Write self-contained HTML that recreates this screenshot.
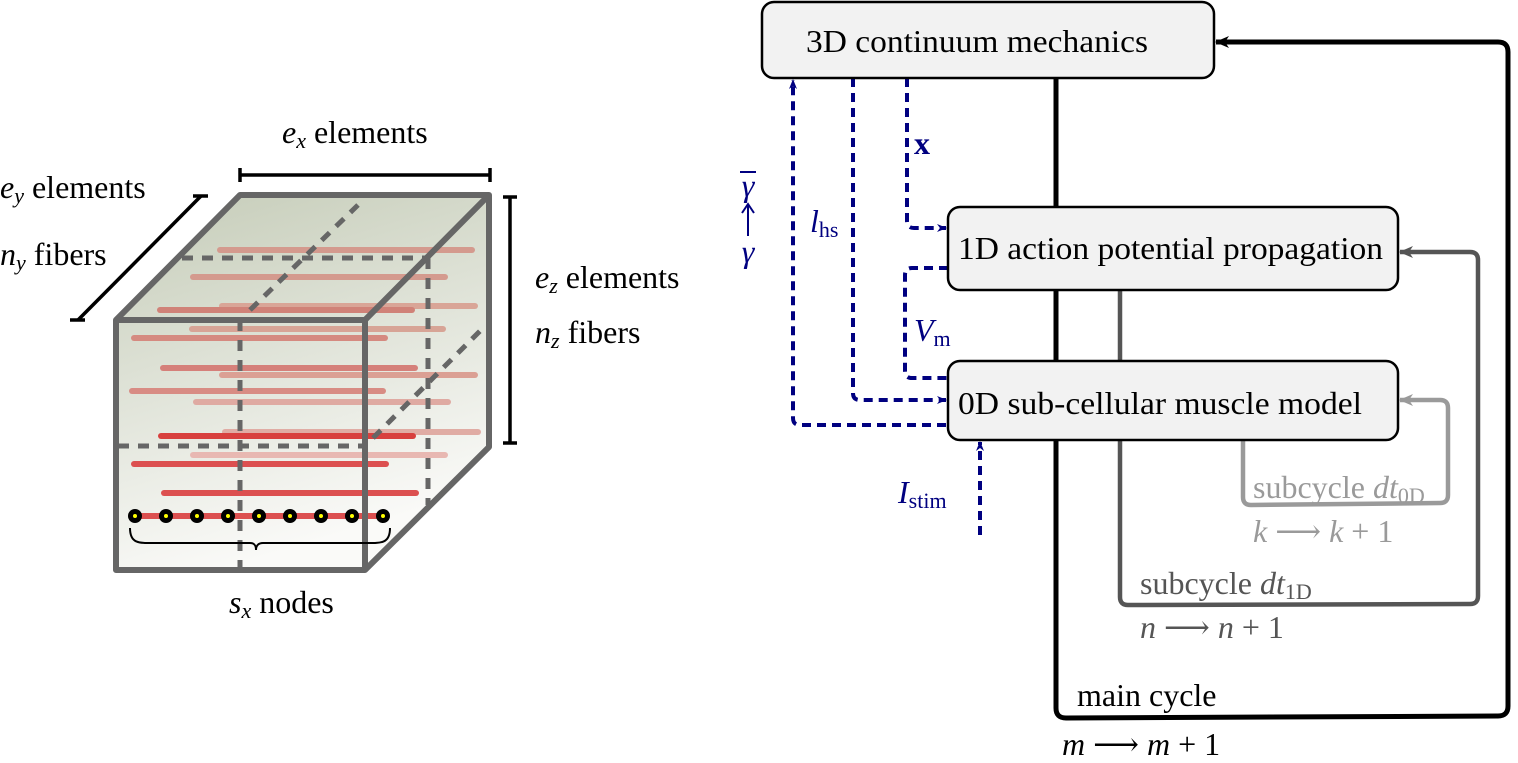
<!DOCTYPE html>
<html><head><meta charset="utf-8"><style>
html,body{margin:0;padding:0;background:#fff}
svg{display:block}
svg text{font-family:"Liberation Serif","DejaVu Serif","Times New Roman",serif;font-size:32px}
.it{font-style:italic}
</style></head><body>
<svg width="1518" height="763" viewBox="0 0 1518 763">
<defs>
<linearGradient id="g" x1="0" y1="0" x2="0.3" y2="1">
<stop offset="0" stop-color="#c5ccb8"/><stop offset="1" stop-color="#fafaf8"/>
</linearGradient>
<marker id="ab" markerWidth="10" markerHeight="10" refX="9" refY="5" orient="auto" markerUnits="userSpaceOnUse"><path d="M0,1 L10,5 L0,9 L3,5z" fill="#000080"/></marker>
<marker id="ak" markerWidth="14" markerHeight="12" refX="13" refY="6" orient="auto" markerUnits="userSpaceOnUse"><path d="M0,0 L14,6 L0,12 L4,6z" fill="#000"/></marker>
<marker id="ad" markerWidth="14" markerHeight="12" refX="13" refY="6" orient="auto" markerUnits="userSpaceOnUse"><path d="M0,0 L14,6 L0,12 L4,6z" fill="#555"/></marker>
<marker id="al" markerWidth="14" markerHeight="12" refX="13" refY="6" orient="auto" markerUnits="userSpaceOnUse"><path d="M0,0 L14,6 L0,12 L4,6z" fill="#9a9a9a"/></marker>
</defs>

<polygon points="116,320 240,195 489,195 489,447 365,570 116,570" fill="url(#g)"/>
<g stroke-linecap="round" stroke-width="6">
<line x1="220" y1="250" x2="472" y2="250" stroke="#d49a8e"/>
<line x1="193" y1="277" x2="445" y2="277" stroke="#d49a8e"/>
<line x1="222" y1="306" x2="475" y2="306" stroke="#d9a597"/>
<line x1="160" y1="310" x2="412" y2="310" stroke="#d08278"/>
<line x1="192" y1="329" x2="443" y2="329" stroke="#d7a496"/>
<line x1="134" y1="338" x2="385" y2="338" stroke="#d58a80"/>
<line x1="163" y1="368" x2="415" y2="368" stroke="#d5807a"/>
<line x1="222" y1="375" x2="475" y2="375" stroke="#dba094"/>
<line x1="132" y1="391" x2="383" y2="391" stroke="#d88c84"/>
<line x1="196" y1="402" x2="448" y2="402" stroke="#dfaaa2"/>
<line x1="225" y1="432" x2="478" y2="432" stroke="#e0aca4"/>
<line x1="161" y1="436" x2="413" y2="436" stroke="#d8403e"/>
<line x1="193" y1="455" x2="445" y2="455" stroke="#e8b8b2"/>
<line x1="134" y1="464" x2="386" y2="464" stroke="#dc5050"/>
<line x1="164" y1="493" x2="416" y2="493" stroke="#dc5050"/>
<line x1="135" y1="516" x2="384" y2="516" stroke="#dc5050"/>
</g>
<g stroke="#666" stroke-width="5" stroke-dasharray="11,9" fill="none">
<line x1="240" y1="320" x2="240" y2="570"/>
<line x1="250" y1="310" x2="358" y2="205"/>
<line x1="182" y1="258" x2="428" y2="258"/>
<line x1="428" y1="258" x2="428" y2="505"/>
<line x1="118" y1="446" x2="365" y2="446"/>
<line x1="373" y1="438" x2="481" y2="330"/>
</g>
<g stroke="#666" stroke-width="6" fill="none" stroke-linejoin="round">
<polygon points="116,320 240,195 489,195 489,447 365,570 116,570"/>
<polyline points="116,320 365,320 489,195"/>
<line x1="365" y1="320" x2="365" y2="570"/>
</g>
<g fill="#000">
<circle cx="135" cy="516" r="7"/><circle cx="166" cy="516" r="7"/><circle cx="197" cy="516" r="7"/><circle cx="228" cy="516" r="7"/><circle cx="259" cy="516" r="7"/><circle cx="290" cy="516" r="7"/><circle cx="321" cy="516" r="7"/><circle cx="352" cy="516" r="7"/><circle cx="383" cy="516" r="7"/>
</g>
<g fill="#ff0">
<circle cx="135" cy="516" r="2"/><circle cx="166" cy="516" r="2"/><circle cx="197" cy="516" r="2"/><circle cx="228" cy="516" r="2"/><circle cx="259" cy="516" r="2"/><circle cx="290" cy="516" r="2"/><circle cx="321" cy="516" r="2"/><circle cx="352" cy="516" r="2"/><circle cx="383" cy="516" r="2"/>
</g>
<path d="M130,528 C130,545 140,543 160,543 L250,543 C255,543 256,546 256,550 C256,546 258,543 263,543 L360,543 C380,543 390,545 390,528" fill="none" stroke="#000" stroke-width="2"/>

<g stroke="#000" stroke-width="3.5" fill="none">
<line x1="240" y1="175" x2="490" y2="175"/><line x1="240" y1="168" x2="240" y2="182"/><line x1="490" y1="168" x2="490" y2="182"/>
<line x1="510" y1="197" x2="510" y2="443"/><line x1="503" y1="197" x2="517" y2="197"/><line x1="503" y1="443" x2="517" y2="443"/>
<line x1="201" y1="196" x2="78" y2="320"/><line x1="193" y1="196" x2="208" y2="196"/><line x1="70" y1="320" x2="85" y2="320"/>
</g>
<text x="282" y="143"><tspan class="it">e</tspan><tspan class="it" font-size="22" dy="5">x</tspan><tspan dy="-5"> elements</tspan></text>
<text x="0" y="198"><tspan class="it">e</tspan><tspan class="it" font-size="22" dy="5">y</tspan><tspan dy="-5"> elements</tspan></text>
<text x="0" y="265"><tspan class="it">n</tspan><tspan class="it" font-size="22" dy="5">y</tspan><tspan dy="-5"> fibers</tspan></text>
<text x="535" y="288"><tspan class="it">e</tspan><tspan class="it" font-size="22" dy="5">z</tspan><tspan dy="-5"> elements</tspan></text>
<text x="535" y="343"><tspan class="it">n</tspan><tspan class="it" font-size="22" dy="5">z</tspan><tspan dy="-5"> fibers</tspan></text>
<text x="229" y="613"><tspan class="it">s</tspan><tspan class="it" font-size="22" dy="5">x</tspan><tspan dy="-5"> nodes</tspan></text>

<path d="M1056,78 L1056,708 Q1056,718 1066,718 L1498,716 Q1508,716 1508,706 L1508,52 Q1508,42 1498,42 L1216,42" fill="none" stroke="#000" stroke-width="5" marker-end="url(#ak)"/>
<path d="M1120,290 L1120,597 Q1120,605 1128,605 L1470,604 Q1478,604 1478,596 L1478,260 Q1478,252 1470,252 L1400,252" fill="none" stroke="#555" stroke-width="4.5" marker-end="url(#ad)"/>
<path d="M1243,440 L1243,497 Q1243,505 1251,505 L1440,503 Q1448,503 1448,495 L1448,408 Q1448,400 1440,400 L1400,400" fill="none" stroke="#9a9a9a" stroke-width="4.5" marker-end="url(#al)"/>

<g stroke="#000080" stroke-width="4" stroke-dasharray="9,6" fill="none" stroke-linejoin="round">
<path d="M946,425 L800,425 Q793,425 793,418 L793,80" marker-end="url(#ab)"/>
<path d="M853,78 L853,393 Q853,400 860,400 L946,400" marker-end="url(#ab)"/>
<path d="M907,78 L907,221 Q907,228 914,228 L946,228" marker-end="url(#ab)"/>
<path d="M948,268 L912,268 Q905,268 905,275 L905,371 Q905,378 912,378 L948,378"/>
<path d="M980,535 L980,442" marker-end="url(#ab)"/>
</g>

<g stroke="#000" stroke-width="2.5" fill="#f2f2f2">
<rect x="762" y="2" width="452" height="76" rx="12"/>
<rect x="948" y="207" width="450" height="83" rx="12"/>
<rect x="948" y="361" width="450" height="79" rx="12"/>
</g>
<text x="806" y="52" textLength="342" lengthAdjust="spacingAndGlyphs">3D continuum mechanics</text>
<text x="958" y="259" textLength="425" lengthAdjust="spacingAndGlyphs">1D action potential propagation</text>
<text x="958" y="414" textLength="404" lengthAdjust="spacingAndGlyphs">0D sub-cellular muscle model</text>

<g fill="#000080">
<text x="914" y="154" font-weight="bold">x</text>
<text x="810" y="232"><tspan class="it">l</tspan><tspan font-size="22" dy="5">hs</tspan></text>
<text x="914" y="341"><tspan class="it">V</tspan><tspan font-size="22" dy="5">m</tspan></text>
<text x="898" y="503"><tspan class="it">I</tspan><tspan font-size="22" dy="5">stim</tspan></text>
<text x="748" y="196" text-anchor="middle" class="it">γ</text>
<line x1="740" y1="172" x2="756" y2="172" stroke="#000080" stroke-width="2"/>
<line x1="748" y1="236" x2="748" y2="205" stroke="#000080" stroke-width="2"/>
<path d="M742,213 L748,204 L754,213" fill="none" stroke="#000080" stroke-width="2"/>
<text x="748" y="262" text-anchor="middle" class="it">γ</text>
</g>

<text x="1253" y="498" fill="#9a9a9a">subcycle <tspan class="it">dt</tspan><tspan font-size="22" dy="5">0D</tspan></text>
<text x="1253" y="542" fill="#9a9a9a"><tspan class="it">k</tspan> ⟶ <tspan class="it">k</tspan> + 1</text>
<text x="1140" y="594" fill="#555">subcycle <tspan class="it">dt</tspan><tspan font-size="22" dy="5">1D</tspan></text>
<text x="1140" y="638" fill="#555"><tspan class="it">n</tspan> ⟶ <tspan class="it">n</tspan> + 1</text>
<text x="1077" y="706">main cycle</text>
<text x="1062" y="755"><tspan class="it">m</tspan> ⟶ <tspan class="it">m</tspan> + 1</text>
</svg>
</body></html>
